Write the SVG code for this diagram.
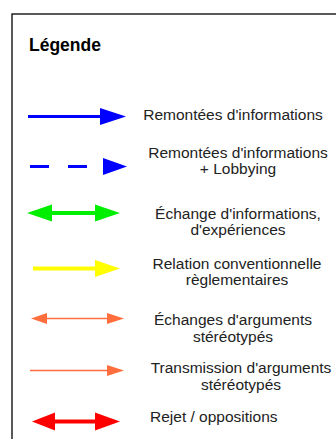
<svg xmlns="http://www.w3.org/2000/svg" width="336" height="439" viewBox="0 0 336 439">
<style>
.lbl{font-family:"Liberation Sans",Arial,sans-serif;font-size:15.5px;fill:#222;text-anchor:middle}
.title{font-family:"Liberation Sans",Arial,sans-serif;font-size:17.5px;font-weight:bold;fill:#000}
</style>
<rect width="336" height="439" fill="#fff"/>
<rect x="12" y="14" width="340" height="440" fill="none" stroke="#000" stroke-width="1.3"/>
<text class="title" x="29" y="51">Légende</text>
<g id="item1">
<line x1="28" y1="116.5" x2="102" y2="116.5" stroke="#0000ff" stroke-width="3"/>
<polygon points="100,108 126,116.5 100,125" fill="#0000ff"/>
<text class="lbl" x="233" y="120">Remontées d'informations</text>
</g>
<g id="item2">
<line x1="30" y1="166.5" x2="88" y2="166.5" stroke="#0000ff" stroke-width="3.2" stroke-dasharray="19,19"/>
<polygon points="103,158 127,166.5 103,175" fill="#0000ff"/>
<text class="lbl" x="238" y="158"><tspan x="238">Remontées d'informations</tspan><tspan x="238" dy="16">+ Lobbying</tspan></text>
</g>
<g id="item3">
<line x1="45" y1="213" x2="100" y2="213" stroke="#00ee00" stroke-width="4"/>
<polygon points="52,204.5 27,213 52,221.5" fill="#00ee00"/>
<polygon points="95,204.5 120,213 95,221.5" fill="#00ee00"/>
<text class="lbl" x="238" y="219"><tspan x="238">Échange d'informations,</tspan><tspan x="238" dy="16">d'expériences</tspan></text>
</g>
<g id="item4">
<line x1="33" y1="268.5" x2="100" y2="268.5" stroke="#ffff00" stroke-width="4"/>
<polygon points="95,260 120,268.5 95,277" fill="#ffff00"/>
<text class="lbl" x="237" y="269"><tspan x="237">Relation conventionnelle</tspan><tspan x="237" dy="16">règlementaires</tspan></text>
</g>
<g id="item5">
<line x1="40" y1="318.5" x2="112" y2="318.5" stroke="#ff6e3c" stroke-width="1.5"/>
<polygon points="47,313 31,318.5 47,324" fill="#ff6e3c"/>
<polygon points="107,313 124,318.5 107,324" fill="#ff6e3c"/>
<text class="lbl" x="233" y="325"><tspan x="233">Échanges d'arguments</tspan><tspan x="233" dy="16.5">stéréotypés</tspan></text>
</g>
<g id="item6">
<line x1="30" y1="370.5" x2="110" y2="370.5" stroke="#ff6e3c" stroke-width="1.5"/>
<polygon points="107,365 124,370.5 107,376" fill="#ff6e3c"/>
<text class="lbl" x="241" y="372.5"><tspan x="241">Transmission d'arguments</tspan><tspan x="241" dy="17">stéréotypés</tspan></text>
</g>
<g id="item7">
<line x1="50" y1="421.5" x2="100" y2="421.5" stroke="#ff0000" stroke-width="4"/>
<polygon points="55,412.5 32,421.5 55,430.5" fill="#ff0000"/>
<polygon points="95,412.5 120,421.5 95,430.5" fill="#ff0000"/>
<text class="lbl" x="150" y="422" style="text-anchor:start">Rejet / oppositions</text>
</g>
</svg>
